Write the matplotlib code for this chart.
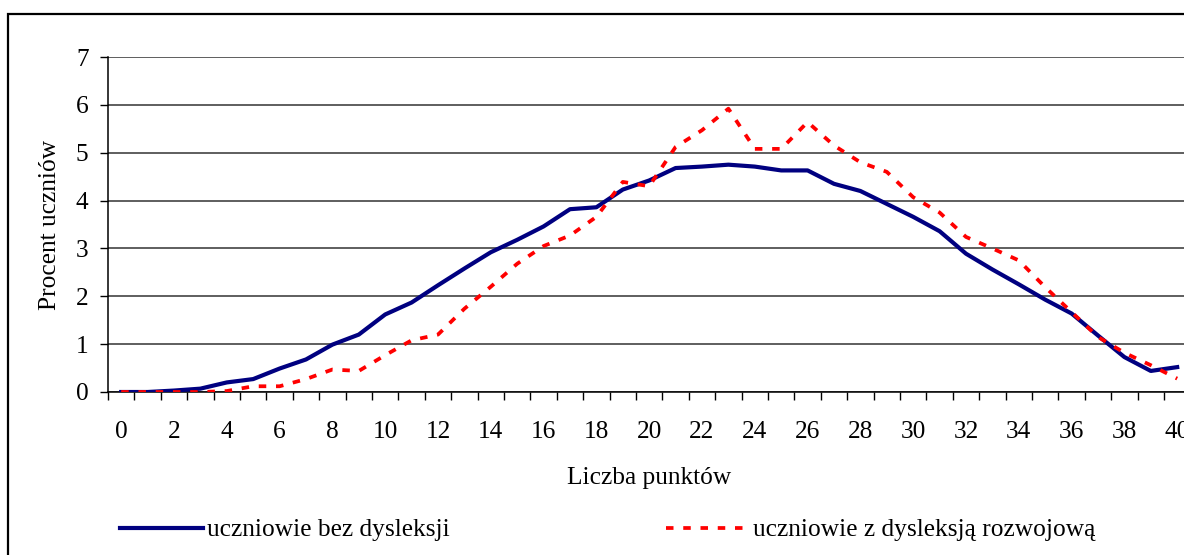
import numpy as np
import matplotlib
matplotlib.use('Agg')
import matplotlib.pyplot as plt
from matplotlib.patches import Rectangle

# data
punkty = list(range(41))
bez_dysleksji = [0, 0, 0.03, 0.07, 0.2, 0.27, 0.49, 0.68, 0.99, 1.2,
                 1.62, 1.87, 2.23, 2.58, 2.92, 3.18, 3.46, 3.82, 3.86, 4.23,
                 4.42, 4.68, 4.71, 4.75, 4.71, 4.63, 4.63, 4.35, 4.2, 3.93,
                 3.66, 3.36, 2.89, 2.56, 2.25, 1.93, 1.64, 1.18, 0.73, 0.44,
                 0.52]
z_dysleksja = [0, 0, 0, 0, 0.02, 0.12, 0.12, 0.27, 0.47, 0.44,
               0.77, 1.08, 1.2, 1.74, 2.2, 2.68, 3.05, 3.27, 3.66, 4.39,
               4.3, 5.12, 5.47, 5.92, 5.08, 5.08, 5.64, 5.15, 4.8, 4.6,
               4.07, 3.75, 3.24, 3.0, 2.75, 2.19, 1.67, 1.15, 0.82, 0.56,
               0.28]
etykiety_x = [str(p) for p in punkty[::2]]
etykiety_y = ['0', '1', '2', '3', '4', '5', '6', '7']

plt.rcParams['font.family'] = ['Liberation Serif', 'DejaVu Serif']
fs = 18.3

fig = plt.figure(figsize=(11.84, 5.55), dpi=100)
W, H = 1184, 555
ax = fig.add_axes([108 / W, 1 - 392 / H, 41 * 26.4 / W, 335 / H])

ax.plot(punkty, bez_dysleksji, color='#000080', lw=3.0,
        label='uczniowie bez dysleksji', zorder=3)
ax.plot(punkty, z_dysleksja, color='#ff0000', lw=2.7, dashes=(2.0, 2.6),
        label='uczniowie z dysleksją rozwojową', zorder=4)

ax.set_xlim(-0.5, 40.5)
ax.set_ylim(0, 7)

# category boundaries as ticks, labels on every second category
ax.set_xticks(np.arange(-0.5, 41, 1))
ax.set_xticklabels([])
ax.set_xticks(punkty[::2], minor=True)
ax.set_xticklabels(etykiety_x, minor=True, fontsize=fs)
ax.tick_params(axis='x', which='major', direction='out', length=5.5, width=1)
ax.tick_params(axis='x', which='minor', length=0, pad=21)

ax.set_yticks(range(8))
ax.set_yticklabels(etykiety_y, fontsize=fs)
ax.tick_params(axis='y', direction='out', length=6, width=1, pad=8)

ax.grid(axis='y', color='#333333', lw=1.1)
ax.set_axisbelow(True)
for s in ['top', 'right']:
    ax.spines[s].set_visible(False)
ax.spines['left'].set_linewidth(1.1)
ax.spines['bottom'].set_linewidth(1.1)

fig.text(649 / W, 1 - 478 / H, 'Liczba punktów', fontsize=fs,
         ha='center', va='center')
fig.text(50 / W, 1 - 225 / H, 'Procent uczniów', fontsize=fs,
         rotation=90, ha='center', va='center')

fig.legend(loc='center', bbox_to_anchor=(608 / W, 1 - 530 / H), ncol=2,
           frameon=False, fontsize=fs, handlelength=3.27, handletextpad=0.16,
           columnspacing=8.5)

fig.patches.append(Rectangle((8 / W, -0.2), 1.5, 1.2 - 14 / H,
                             transform=fig.transFigure, fill=False,
                             edgecolor='black', lw=1.6, zorder=0))

fig.savefig('out.png', dpi=100)
